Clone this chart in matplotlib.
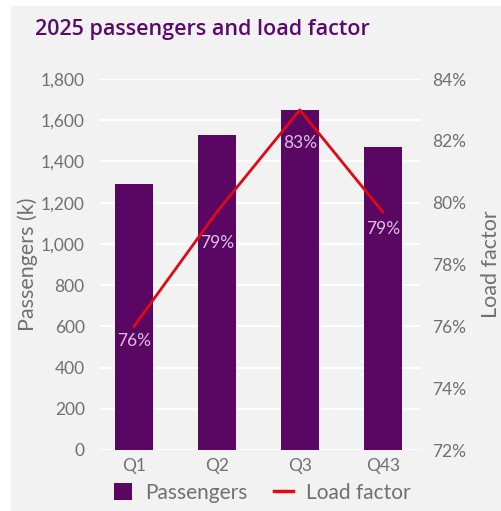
import matplotlib
matplotlib.use("Agg")
import matplotlib.pyplot as plt
from matplotlib.patches import Rectangle
from matplotlib.lines import Line2D
from matplotlib.ticker import FuncFormatter

quarters = ["Q1", "Q2", "Q3", "Q43"]
passengers = [1290, 1528, 1650, 1470]
load_factor = [76.0, 79.7, 83.0, 79.7]
lf_labels = ["76%", "79%", "83%", "79%"]

title = "2025 passengers and load factor"
left_label = "Passengers (k)"
right_label = "Load factor"

BAR = "#5a0764"
RED = "#e30613"
PANEL = "#f2f2f2"
TXT = "#707070"
FONT = "Lato"

plt.rcParams['font.family'] = [FONT, 'DejaVu Sans']

W, H = 502, 511
fig = plt.figure(figsize=(W/100, H/100), dpi=100, facecolor="white")
fig.patches.append(Rectangle((11/W, 0), (W-11)/W, (H-6)/H, transform=fig.transFigure,
                             facecolor=PANEL, edgecolor="none", zorder=-10))

ax = fig.add_axes([100/W, 1-450/H, 320/W, 371/H])
ax.set_facecolor("none")
x = list(range(len(quarters)))
ax.bar(x, passengers, width=0.46, color=BAR, zorder=2)
ax.set_xlim(-0.41, 3.45)
ax.set_ylim(0, 1800)
ax.set_yticks(range(0, 1801, 200))
ax.yaxis.set_major_formatter(FuncFormatter(lambda v, p: f"{int(v):,}"))
ax.grid(axis="y", color="white", linewidth=1.5, zorder=1)
ax.set_axisbelow(True)
ax.set_xticks(x)
ax.set_xticklabels(quarters)
for s in ax.spines.values():
    s.set_visible(False)
ax.tick_params(axis="both", length=0, labelsize=12.5, colors=TXT)
ax.tick_params(axis="y", pad=11)
ax.tick_params(axis="x", pad=6)
ax.set_ylabel(left_label, fontsize=15.5, color=TXT, labelpad=2)

ax2 = ax.twinx()
ax2.plot(x, load_factor, color=RED, linewidth=2, zorder=3)
ax2.set_ylim(72, 84)
ax2.set_yticks(range(72, 85, 2))
ax2.yaxis.set_major_formatter(FuncFormatter(lambda v, p: f"{int(v)}%"))
for s in ax2.spines.values():
    s.set_visible(False)
ax2.tick_params(axis="y", length=0, labelsize=12.5, colors=TXT, pad=9)
ax2.set_ylabel(right_label, fontsize=15.5, color=TXT, labelpad=10)

offsets = [-15, -31, -33, -17]
for xi, v, lab, off in zip(x, load_factor, lf_labels, offsets):
    ax2.annotate(lab, (xi, v), xytext=(0, off * 0.72), textcoords="offset points",
                 ha="center", va="center", fontsize=12.5, color="#dcc0e2", zorder=4)

fig.text(35/W, 1-30/H, title, fontsize=15.5, fontweight="semibold", color="#5a0a6e",
         ha="left", va="center", family=["Open Sans", "DejaVu Sans"])

handles = [Rectangle((0, 0), 1, 1, facecolor=BAR, edgecolor="none"),
           Line2D([0], [0], color=RED, linewidth=2.5)]
fig.legend(handles, ["Passengers", "Load factor"], loc="center",
           bbox_to_anchor=(262/W, 1-493/H), ncol=2, frameon=False, fontsize=15,
           labelcolor=TXT, handlelength=0.9, handleheight=0.9, columnspacing=1.3,
           handletextpad=0.6)

fig.savefig("out.png", dpi=100, facecolor="white")
